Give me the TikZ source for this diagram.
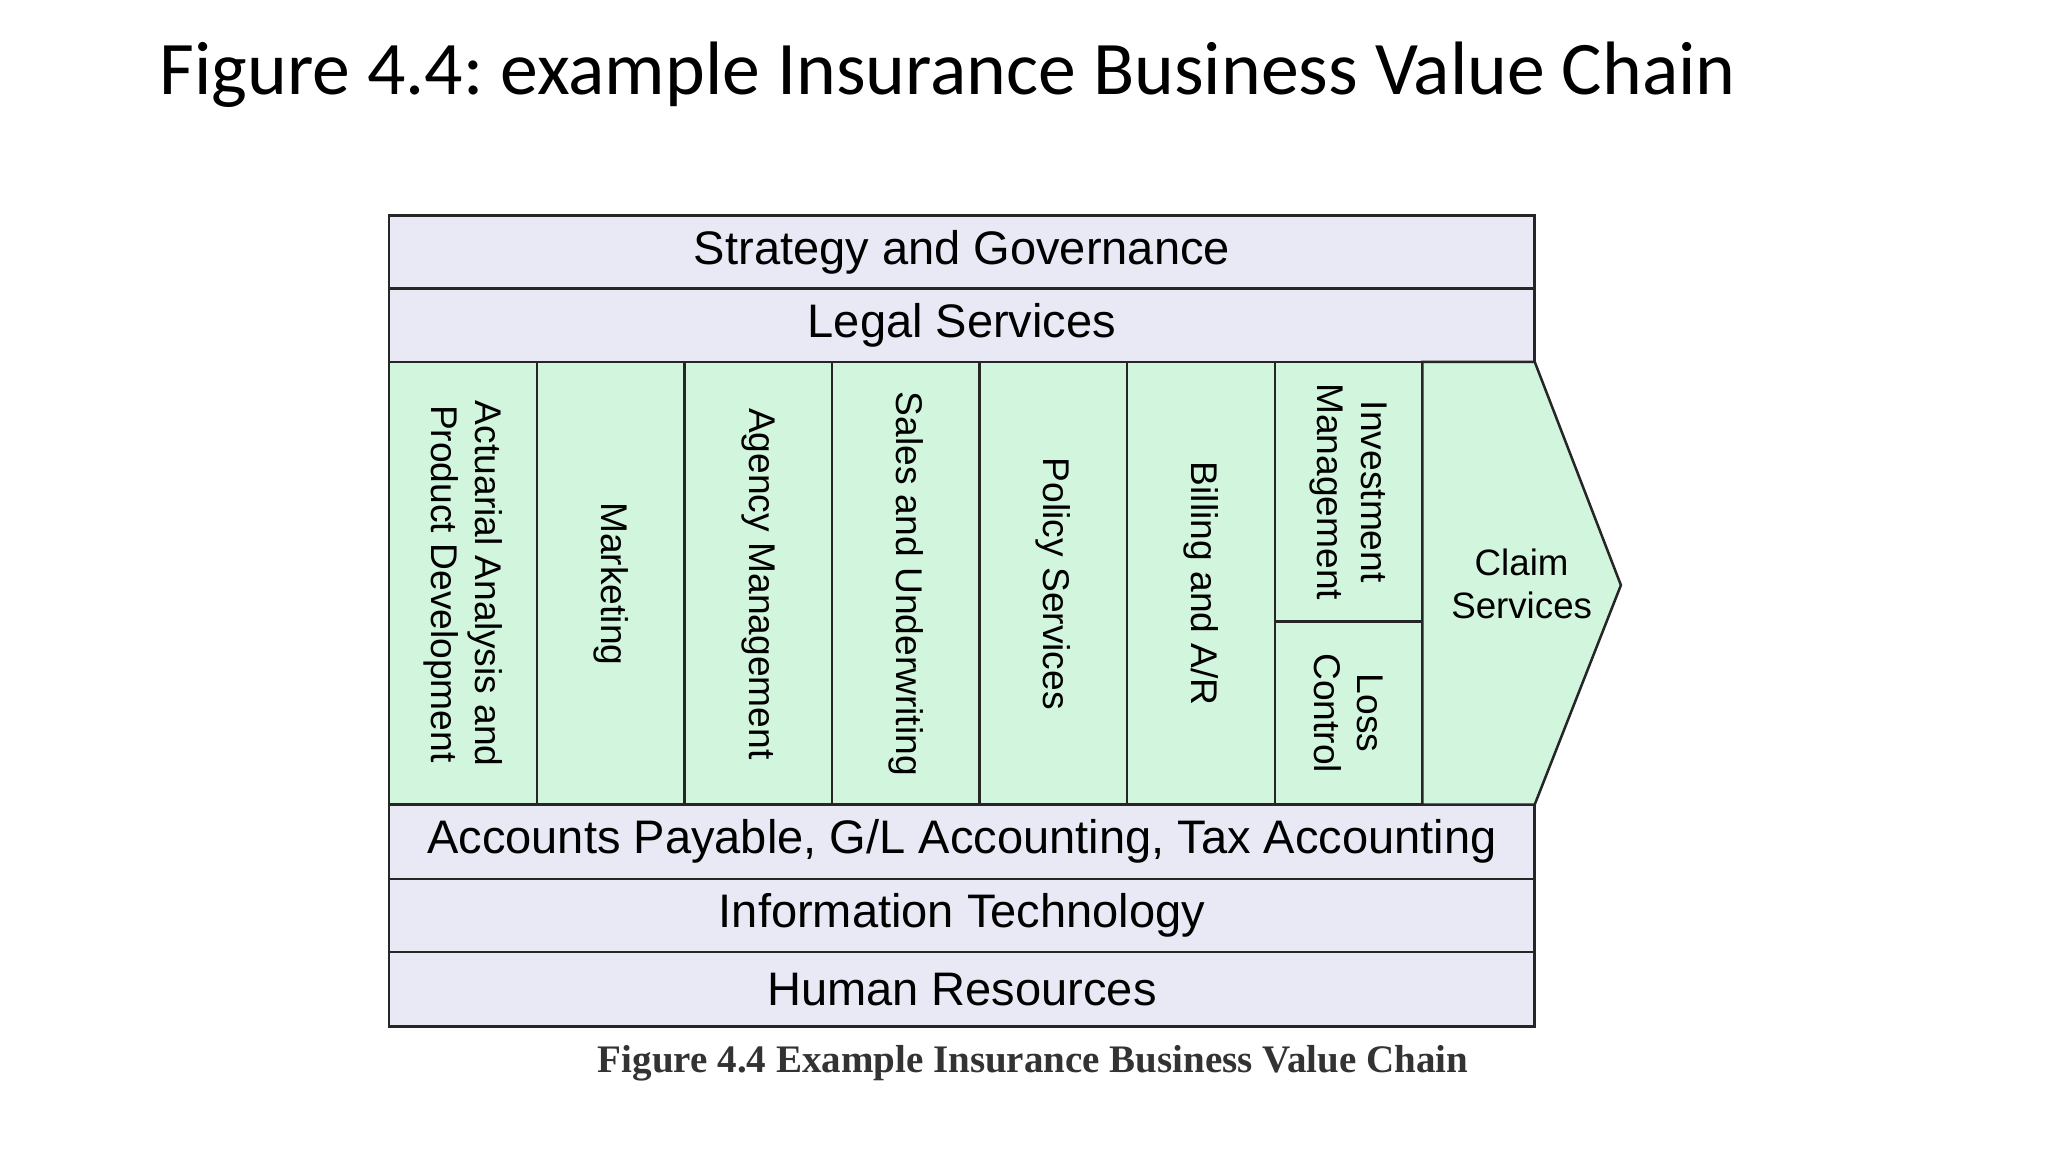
\documentclass[tikz,border=0pt]{standalone}
\usepackage{fontspec}
\setmainfont{Liberation Sans}
\newfontfamily\titlefont{Carlito}
\newfontfamily\capfont{Liberation Serif}
\definecolor{rowfill}{HTML}{E9E9F5}
\definecolor{colfill}{HTML}{D2F5DE}
\frenchspacing
\begin{document}
\begin{tikzpicture}[x=0.02cm,y=-0.02cm,
  cellline/.style={draw=black!85,line width=1.1pt},
  rowbox/.style={cellline,fill=rowfill},
  colbox/.style={cellline,fill=colfill},
  rowtext/.style={font=\fontsize{20.5}{22}\selectfont},
  vtext/.style={font=\fontsize{16.2}{19}\selectfont,rotate=-90,align=center}]
\useasboundingbox[fill=white] (0,0) rectangle (1568,882);
\node[anchor=west,font=\titlefont\fontsize{33}{36}\selectfont] (title) at (116,57) {Figure 4.4: example Insurance Business Value Chain};
% rows
\draw[rowbox] (298,165) rectangle (1175,221);
\draw[rowbox] (298,221) rectangle (1175,277);
\draw[rowbox] (298,616) rectangle (1175,673);
\draw[rowbox] (298,673) rectangle (1175,729);
\draw[rowbox] (298,729) rectangle (1175,786);
\node[rowtext] (sg) at (736.5,193) {Strategy and Governance};
\node[rowtext] (ls) at (736.5,249) {Legal Services};
\node[rowtext] (ap) at (736.5,644.5) {Accounts Payable, G/L Accounting, Tax Accounting};
\node[rowtext] (it) at (736.5,701) {Information Technology};
\node[rowtext] (hr) at (736.5,757.5) {Human Resources};
% columns
\draw[colbox] (298,277) rectangle (411,616);
\draw[colbox] (411,277) rectangle (524,616);
\draw[colbox] (524,277) rectangle (637,616);
\draw[colbox] (637,277) rectangle (750,616);
\draw[colbox] (750,277) rectangle (863,616);
\draw[colbox] (863,277) rectangle (976,616);
\draw[colbox] (976,277) rectangle (1089,476);
\draw[colbox] (976,476) rectangle (1089,616);
\draw[colbox] (1089,277) -- (1175,277) -- (1241,448) -- (1175,616) -- (1089,616) -- cycle;
\node[vtext] (c1) at (354.5,447) {Actuarial Analysis and\\Product Development};
\node[vtext] (c2) at (467.5,447) {Marketing};
\node[vtext] (c3) at (580.5,447) {Agency Management};
\node[vtext] (c4) at (693.5,447) {Sales and Underwriting};
\node[vtext] (c5) at (806.5,447) {Policy Services};
\node[vtext] (c6) at (919.5,447) {Billing and A/R};
\node[vtext] (c7) at (1032.5,376.5) {Investment\\Management};
\node[vtext] (c8) at (1032.5,546) {Loss\\Control};
\node[align=center,font=\fontsize{16}{19}\selectfont] (c9) at (1165,447) {Claim\\Services};
\node[font=\capfont\bfseries\fontsize{17}{19}\selectfont,text=black!80] (cap) at (791,814) {Figure 4.4 Example Insurance Business Value Chain};
\end{tikzpicture}
\end{document}
